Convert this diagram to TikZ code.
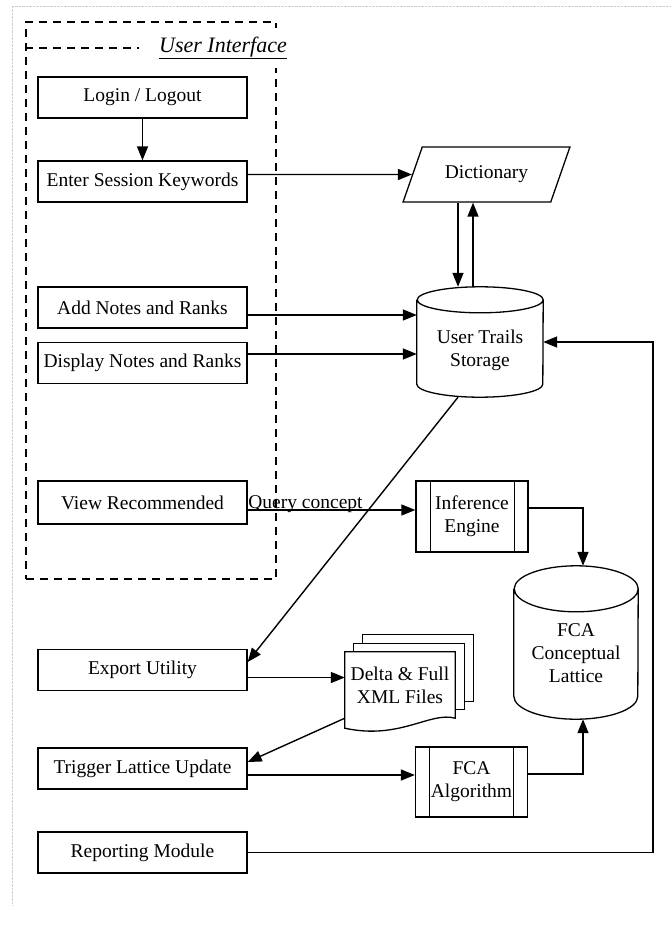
\documentclass[tikz,border=0pt]{standalone}
\usepackage{fontspec}
\setmainfont{Liberation Serif}
\usetikzlibrary{arrows.meta,shapes.geometric,backgrounds}

\tikzset{
  box/.style={draw, line width=1.3pt, minimum width=209pt, minimum height=41pt, inner sep=2pt},
  proc/.style={draw, line width=1.3pt, minimum width=112pt, minimum height=71pt, inner sep=2pt, align=center,
    path picture={\draw[line width=1pt] ([xshift=14pt]path picture bounding box.north west) -- ([xshift=14pt]path picture bounding box.south west);
      \draw[line width=1pt] ([xshift=-14pt]path picture bounding box.north east) -- ([xshift=-14pt]path picture bounding box.south east);}},
  dict/.style={draw, line width=1.3pt, trapezium, trapezium left angle=58.3, trapezium right angle=121.7,
    trapezium stretches=true, minimum width=167pt, minimum height=55pt, inner sep=2pt},
  tank/.style={inner sep=0pt},
  arr/.style={line width=1.4pt, -{Triangle[length=14pt,width=11pt]}},
  uidash/.style={line width=1.4pt, dash pattern=on 8pt off 6pt},
}

\begin{document}
\begin{tikzpicture}[x=1pt, y=-1pt, every node/.style={font=\fontsize{19.5}{23}\selectfont}]
\useasboundingbox (0,0) rectangle (670,939);
\draw[gray!40, densely dotted] (12,905) -- (12,6) -- (670,6);

% user interface
\node[draw, uidash, minimum width=250pt, minimum height=557pt, inner sep=0pt] (ui) at (151,300.5) {};
\node[fill=white, inner xsep=2pt, inner ysep=9pt, font=\fontsize{22}{26}\selectfont\itshape] (uilbl) at (223,48) {\underline{User Interface}};
\draw[uidash] (ui.west |- uilbl) -- ([xshift=-18pt]uilbl.west);

\node[box] (login) at (142.5,97.5) {Login / Logout};
\node[box] (enter) at (142.5,181.5) {Enter Session Keywords};
\node[box] (add) at (142.5,307.5) {Add Notes and Ranks};
\node[box] (disp) at (142.5,363) {Display Notes and Ranks};
\node[box, minimum height=43pt] (view) at (142.5,502.5) {View Recommended};
\node[box] (exp) at (142.5,670) {Export Utility};
\node[box] (trig) at (142.5,768.5) {Trigger Lattice Update};
\node[box] (rep) at (142.5,852.5) {Reporting Module};

% stores and processes
\node[dict] (dict) at (486.5,174.5) {Dictionary};
\node[tank, minimum width=126pt, minimum height=110pt, label={[align=center, yshift=-8pt]center:User Trails\\Storage}] (stor) at (480,342) {};
\node[proc] (inf) at (472,516.5) {Inference\\Engine};
\node[tank, minimum width=124pt, minimum height=153pt, label={[align=center, yshift=-10.5pt]center:FCA\\Conceptual\\Lattice}] (lat) at (576,642.5) {};
\node[proc, minimum height=70pt] (alg) at (471.5,782) {FCA\\Algorithm};
\node[minimum width=110pt, minimum height=66pt, align=center, inner sep=0pt] (xml) at (400,685) {Delta \& Full\\XML Files};

\begin{scope}[on background layer]
\draw[line width=1.3pt, fill=white] ([xshift=18pt,yshift=17pt]xml.north west) rectangle ([xshift=18pt,yshift=17pt]xml.south east);
\draw[line width=1.3pt, fill=white] ([xshift=9pt,yshift=8.5pt]xml.north west) rectangle ([xshift=9pt,yshift=8.5pt]xml.south east);
\draw[line width=1.3pt, fill=white] (xml.north west) -- (xml.north east) -- (xml.south east) .. controls +(-25,-7) and +(55,12) .. ([yshift=-10pt]xml.south west) -- cycle;
\end{scope}

\draw[line width=1.3pt] ([yshift=-13pt]stor.north west) -- ([yshift=13pt]stor.south west) arc[start angle=180, end angle=360, x radius=63pt, y radius=13pt] -- ([yshift=-13pt]stor.north east) arc[start angle=0, end angle=360, x radius=63pt, y radius=13pt];
\draw[line width=1.3pt] ([yshift=-23pt]lat.north west) -- ([yshift=23pt]lat.south west) arc[start angle=180, end angle=360, x radius=62pt, y radius=23pt] -- ([yshift=-23pt]lat.north east) arc[start angle=0, end angle=360, x radius=62pt, y radius=23pt];

% connectors
\draw[arr] (login) -- (enter);
\draw[arr] (enter.east |- dict) -- (dict.west);
\coordinate (dn) at ([xshift=-22pt]stor.north);
\coordinate (up) at ([xshift=-7pt]stor.north);
\draw[arr] (dn |- dict.south) -- (dn);
\draw[arr] (up) -- (up |- dict.south);
\coordinate (a1) at ([yshift=-7.5pt]add.east);
\coordinate (d1) at ([yshift=9pt]disp.east);
\draw[arr] (a1) -- (a1 -| stor.west);
\draw[arr] (d1) -- (d1 -| stor.west);
\coordinate (back) at (653,0);
\draw[arr] (rep.east) -| (back |- stor.east) -- (stor.east);

\coordinate (q) at ([yshift=-7.5pt]view.east);
\draw[arr] (q) -- node[pos=0, anchor=base west, inner sep=0pt, yshift=2pt] (qlbl) {Query concept} (q -| inf.west);
\coordinate (i1) at ([yshift=8.5pt]inf.east);
\coordinate (l1) at ([xshift=7pt]lat.north);
\draw[arr] (i1) -| (l1);

\coordinate (s1) at ([xshift=-22pt]stor.south);
\coordinate (e1) at ([yshift=8pt]exp.east);
\draw[arr] (s1) -- (e1);
\coordinate (e2) at ([yshift=-7.5pt]exp.east);
\draw[arr] (e2) -- (e2 -| xml.west);
\coordinate (t1) at ([yshift=6.5pt]trig.east);
\draw[arr] (xml.south west) -- (t1);
\coordinate (t2) at ([yshift=-6.5pt]trig.east);
\draw[arr] (t2) -- (t2 -| alg.west);
\coordinate (g1) at ([yshift=8pt]alg.east);
\coordinate (l2) at ([xshift=7pt]lat.south);
\draw[arr] (g1) -| (l2);
\end{tikzpicture}
\end{document}
